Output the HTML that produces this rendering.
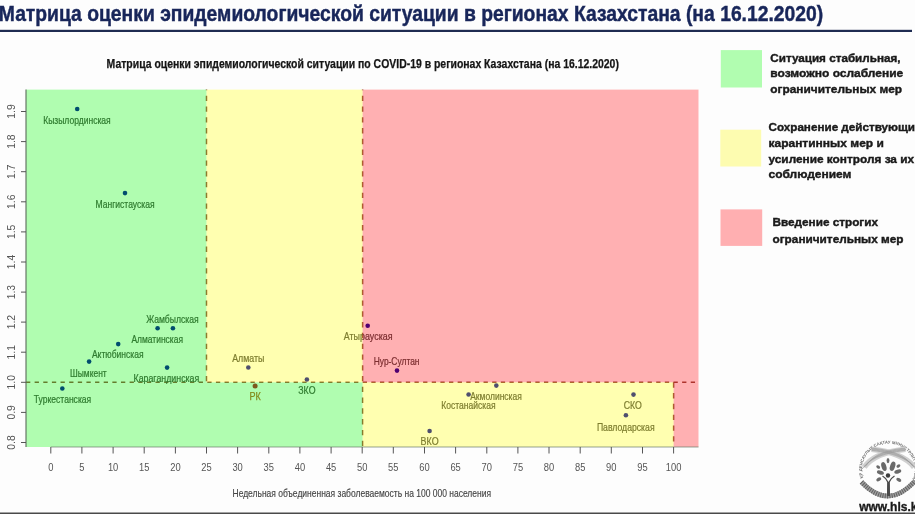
<!DOCTYPE html><html><head><meta charset="utf-8"><style>
html,body{margin:0;padding:0;background:#fff;width:915px;height:514px;overflow:hidden}
svg{display:block;position:absolute;left:0;top:0;filter:blur(0.7px)}
text{font-family:"Liberation Sans",Arial,sans-serif}
</style></head><body>
<svg width="915" height="514" viewBox="0 0 915 514">
<rect x="0" y="0" width="915" height="514" fill="#fdfdfd"/>
<text x="-1.2" y="20.7" font-size="22" font-weight="bold" fill="#18265a" stroke="#18265a" stroke-width="0.45" textLength="824.4" lengthAdjust="spacingAndGlyphs">Матрица оценки эпидемиологической ситуации в регионах Казахстана (на 16.12.2020)</text>
<rect x="0" y="29.8" width="912" height="2.2" fill="#1f2c52"/>
<text x="106.6" y="67.8" font-size="12" font-weight="bold" fill="#151515" stroke="#151515" stroke-width="0.25" textLength="512.3" lengthAdjust="spacingAndGlyphs">Матрица оценки эпидемиологической ситуации по COVID-19 в регионах Казахстана (на 16.12.2020)</text>
<rect x="26.0" y="89.6" width="672.5" height="357.4" fill="#ffffff"/>
<line x1="26.0" y1="382.3" x2="698.5" y2="382.3" stroke="#8e4a40" stroke-width="1.5" fill="none" stroke-dasharray="4.3 4.333" stroke-dashoffset="0"/>
<line x1="206.5" y1="89.6" x2="206.5" y2="382.3" stroke="#8e4a40" stroke-width="1.5" fill="none" stroke-dasharray="5.35 5.43" stroke-dashoffset="4.68"/>
<line x1="362.6" y1="89.6" x2="362.6" y2="447.0" stroke="#8e4a40" stroke-width="1.5" fill="none" stroke-dasharray="5.35 5.43" stroke-dashoffset="4.68"/>
<line x1="673.6" y1="382.3" x2="673.6" y2="447.0" stroke="#8e4a40" stroke-width="1.5" fill="none" stroke-dasharray="5.35 5.43" stroke-dashoffset="0"/>
<circle cx="77.2" cy="109.0" r="2.3" fill="#0000a0"/>
<text x="43.2" y="124.0" font-size="10.3" fill="#444444" stroke="#444444" stroke-width="0.22" textLength="67.5" lengthAdjust="spacingAndGlyphs">Кызылординская</text>
<circle cx="125.0" cy="193.1" r="2.3" fill="#0000a0"/>
<text x="95.5" y="208.4" font-size="10.3" fill="#444444" stroke="#444444" stroke-width="0.22" textLength="59.1" lengthAdjust="spacingAndGlyphs">Мангистауская</text>
<circle cx="157.6" cy="328.3" r="2.3" fill="#0000a0"/>
<circle cx="172.9" cy="328.3" r="2.3" fill="#0000a0"/>
<text x="146.2" y="322.5" font-size="10.3" fill="#444444" stroke="#444444" stroke-width="0.22" textLength="52.5" lengthAdjust="spacingAndGlyphs">Жамбылская</text>
<text x="131.4" y="343.2" font-size="10.3" fill="#444444" stroke="#444444" stroke-width="0.22" textLength="51.6" lengthAdjust="spacingAndGlyphs">Алматинская</text>
<circle cx="118.2" cy="344.1" r="2.3" fill="#0000a0"/>
<text x="91.9" y="358.4" font-size="10.3" fill="#444444" stroke="#444444" stroke-width="0.22" textLength="51.7" lengthAdjust="spacingAndGlyphs">Актюбинская</text>
<circle cx="89.1" cy="361.6" r="2.3" fill="#0000a0"/>
<text x="70.0" y="376.6" font-size="10.3" fill="#444444" stroke="#444444" stroke-width="0.22" textLength="36.7" lengthAdjust="spacingAndGlyphs">Шымкент</text>
<circle cx="62.3" cy="388.5" r="2.3" fill="#0000a0"/>
<text x="33.8" y="403.4" font-size="10.3" fill="#444444" stroke="#444444" stroke-width="0.22" textLength="57.4" lengthAdjust="spacingAndGlyphs">Туркестанская</text>
<circle cx="167.1" cy="367.6" r="2.3" fill="#0000a0"/>
<text x="133.5" y="382.0" font-size="10.3" fill="#444444" stroke="#444444" stroke-width="0.22" textLength="65.8" lengthAdjust="spacingAndGlyphs">Карагандинская</text>
<circle cx="248.3" cy="367.5" r="2.3" fill="#0000a0"/>
<text x="232.2" y="361.6" font-size="10.3" fill="#444444" stroke="#444444" stroke-width="0.22" textLength="32.2" lengthAdjust="spacingAndGlyphs">Алматы</text>
<circle cx="306.9" cy="379.5" r="2.3" fill="#0000a0"/>
<text x="298.3" y="393.7" font-size="10.3" fill="#444444" stroke="#444444" stroke-width="0.22" textLength="17.2" lengthAdjust="spacingAndGlyphs">ЗКО</text>
<circle cx="367.7" cy="325.7" r="2.3" fill="#0000a0"/>
<text x="343.8" y="339.7" font-size="10.3" fill="#444444" stroke="#444444" stroke-width="0.22" textLength="48.7" lengthAdjust="spacingAndGlyphs">Атырауская</text>
<circle cx="397.0" cy="370.6" r="2.3" fill="#0000a0"/>
<text x="373.7" y="365.0" font-size="10.3" fill="#444444" stroke="#444444" stroke-width="0.22" textLength="45.8" lengthAdjust="spacingAndGlyphs">Нур-Султан</text>
<circle cx="468.6" cy="394.5" r="2.3" fill="#0000a0"/>
<text x="441.2" y="409.0" font-size="10.3" fill="#444444" stroke="#444444" stroke-width="0.22" textLength="54.4" lengthAdjust="spacingAndGlyphs">Костанайская</text>
<circle cx="496.3" cy="385.6" r="2.3" fill="#0000a0"/>
<text x="470.2" y="400.2" font-size="10.3" fill="#444444" stroke="#444444" stroke-width="0.22" textLength="51.6" lengthAdjust="spacingAndGlyphs">Акмолинская</text>
<circle cx="429.6" cy="431.0" r="2.3" fill="#0000a0"/>
<text x="420.6" y="445.0" font-size="10.3" fill="#444444" stroke="#444444" stroke-width="0.22" textLength="18.0" lengthAdjust="spacingAndGlyphs">ВКО</text>
<circle cx="633.5" cy="394.6" r="2.3" fill="#0000a0"/>
<text x="623.7" y="408.6" font-size="10.3" fill="#444444" stroke="#444444" stroke-width="0.22" textLength="18.1" lengthAdjust="spacingAndGlyphs">СКО</text>
<circle cx="625.9" cy="415.3" r="2.3" fill="#0000a0"/>
<text x="596.9" y="430.8" font-size="10.3" fill="#444444" stroke="#444444" stroke-width="0.22" textLength="57.7" lengthAdjust="spacingAndGlyphs">Павлодарская</text>
<circle cx="255.1" cy="385.9" r="2.5" fill="#b4122a"/>
<text x="249.5" y="399.7" font-size="10.3" fill="#be5a28" stroke="#be5a28" stroke-width="0.25" textLength="11.3" lengthAdjust="spacingAndGlyphs">РК</text>
<rect x="26.0" y="89.6" width="180.5" height="292.7" fill="#00fa00" fill-opacity="0.31"/>
<rect x="26.0" y="382.3" width="336.6" height="64.7" fill="#00fa00" fill-opacity="0.31"/>
<rect x="206.5" y="89.6" width="156.1" height="292.7" fill="#ffff00" fill-opacity="0.31"/>
<rect x="362.6" y="382.3" width="311.0" height="64.7" fill="#ffff00" fill-opacity="0.31"/>
<rect x="362.6" y="89.6" width="335.9" height="292.7" fill="#ff0008" fill-opacity="0.31"/>
<rect x="673.6" y="382.3" width="24.9" height="64.7" fill="#ff0008" fill-opacity="0.31"/>
<line x1="26.0" y1="89.6" x2="26.0" y2="447.0" stroke="#5a6a5a" stroke-width="1.1"/>
<line x1="50.8" y1="447.0" x2="698.5" y2="447.0" stroke="#6a7a6a" stroke-opacity="0.7" stroke-width="1.1"/>
<line x1="21" y1="442.5" x2="26.0" y2="442.5" stroke="#555" stroke-width="1"/>
<text transform="translate(14.6,442.5) rotate(-90)" text-anchor="middle" font-size="10.4" fill="#555">0.8</text>
<line x1="21" y1="412.4" x2="26.0" y2="412.4" stroke="#555" stroke-width="1"/>
<text transform="translate(14.6,412.4) rotate(-90)" text-anchor="middle" font-size="10.4" fill="#555">0.9</text>
<line x1="21" y1="382.3" x2="26.0" y2="382.3" stroke="#555" stroke-width="1"/>
<text transform="translate(14.6,382.3) rotate(-90)" text-anchor="middle" font-size="10.4" fill="#555">1.0</text>
<line x1="21" y1="352.2" x2="26.0" y2="352.2" stroke="#555" stroke-width="1"/>
<text transform="translate(14.6,352.2) rotate(-90)" text-anchor="middle" font-size="10.4" fill="#555">1.1</text>
<line x1="21" y1="322.1" x2="26.0" y2="322.1" stroke="#555" stroke-width="1"/>
<text transform="translate(14.6,322.1) rotate(-90)" text-anchor="middle" font-size="10.4" fill="#555">1.2</text>
<line x1="21" y1="292.1" x2="26.0" y2="292.1" stroke="#555" stroke-width="1"/>
<text transform="translate(14.6,292.1) rotate(-90)" text-anchor="middle" font-size="10.4" fill="#555">1.3</text>
<line x1="21" y1="262.0" x2="26.0" y2="262.0" stroke="#555" stroke-width="1"/>
<text transform="translate(14.6,262.0) rotate(-90)" text-anchor="middle" font-size="10.4" fill="#555">1.4</text>
<line x1="21" y1="231.9" x2="26.0" y2="231.9" stroke="#555" stroke-width="1"/>
<text transform="translate(14.6,231.9) rotate(-90)" text-anchor="middle" font-size="10.4" fill="#555">1.5</text>
<line x1="21" y1="201.8" x2="26.0" y2="201.8" stroke="#555" stroke-width="1"/>
<text transform="translate(14.6,201.8) rotate(-90)" text-anchor="middle" font-size="10.4" fill="#555">1.6</text>
<line x1="21" y1="171.7" x2="26.0" y2="171.7" stroke="#555" stroke-width="1"/>
<text transform="translate(14.6,171.7) rotate(-90)" text-anchor="middle" font-size="10.4" fill="#555">1.7</text>
<line x1="21" y1="141.6" x2="26.0" y2="141.6" stroke="#555" stroke-width="1"/>
<text transform="translate(14.6,141.6) rotate(-90)" text-anchor="middle" font-size="10.4" fill="#555">1.8</text>
<line x1="21" y1="111.5" x2="26.0" y2="111.5" stroke="#555" stroke-width="1"/>
<text transform="translate(14.6,111.5) rotate(-90)" text-anchor="middle" font-size="10.4" fill="#555">1.9</text>
<line x1="50.8" y1="447.0" x2="50.8" y2="453.5" stroke="#555" stroke-width="1"/>
<g transform="translate(50.8,470.8) scale(0.85,1)"><text x="0" y="0" text-anchor="middle" font-size="11" fill="#555">0</text></g>
<line x1="81.9" y1="447.0" x2="81.9" y2="453.5" stroke="#555" stroke-width="1"/>
<g transform="translate(81.9,470.8) scale(0.85,1)"><text x="0" y="0" text-anchor="middle" font-size="11" fill="#555">5</text></g>
<line x1="113.1" y1="447.0" x2="113.1" y2="453.5" stroke="#555" stroke-width="1"/>
<g transform="translate(113.1,470.8) scale(0.85,1)"><text x="0" y="0" text-anchor="middle" font-size="11" fill="#555">10</text></g>
<line x1="144.2" y1="447.0" x2="144.2" y2="453.5" stroke="#555" stroke-width="1"/>
<g transform="translate(144.2,470.8) scale(0.85,1)"><text x="0" y="0" text-anchor="middle" font-size="11" fill="#555">15</text></g>
<line x1="175.4" y1="447.0" x2="175.4" y2="453.5" stroke="#555" stroke-width="1"/>
<g transform="translate(175.4,470.8) scale(0.85,1)"><text x="0" y="0" text-anchor="middle" font-size="11" fill="#555">20</text></g>
<line x1="206.5" y1="447.0" x2="206.5" y2="453.5" stroke="#555" stroke-width="1"/>
<g transform="translate(206.5,470.8) scale(0.85,1)"><text x="0" y="0" text-anchor="middle" font-size="11" fill="#555">25</text></g>
<line x1="237.6" y1="447.0" x2="237.6" y2="453.5" stroke="#555" stroke-width="1"/>
<g transform="translate(237.6,470.8) scale(0.85,1)"><text x="0" y="0" text-anchor="middle" font-size="11" fill="#555">30</text></g>
<line x1="268.8" y1="447.0" x2="268.8" y2="453.5" stroke="#555" stroke-width="1"/>
<g transform="translate(268.8,470.8) scale(0.85,1)"><text x="0" y="0" text-anchor="middle" font-size="11" fill="#555">35</text></g>
<line x1="299.9" y1="447.0" x2="299.9" y2="453.5" stroke="#555" stroke-width="1"/>
<g transform="translate(299.9,470.8) scale(0.85,1)"><text x="0" y="0" text-anchor="middle" font-size="11" fill="#555">40</text></g>
<line x1="331.1" y1="447.0" x2="331.1" y2="453.5" stroke="#555" stroke-width="1"/>
<g transform="translate(331.1,470.8) scale(0.85,1)"><text x="0" y="0" text-anchor="middle" font-size="11" fill="#555">45</text></g>
<line x1="362.2" y1="447.0" x2="362.2" y2="453.5" stroke="#555" stroke-width="1"/>
<g transform="translate(362.2,470.8) scale(0.85,1)"><text x="0" y="0" text-anchor="middle" font-size="11" fill="#555">50</text></g>
<line x1="393.3" y1="447.0" x2="393.3" y2="453.5" stroke="#555" stroke-width="1"/>
<g transform="translate(393.3,470.8) scale(0.85,1)"><text x="0" y="0" text-anchor="middle" font-size="11" fill="#555">55</text></g>
<line x1="424.5" y1="447.0" x2="424.5" y2="453.5" stroke="#555" stroke-width="1"/>
<g transform="translate(424.5,470.8) scale(0.85,1)"><text x="0" y="0" text-anchor="middle" font-size="11" fill="#555">60</text></g>
<line x1="455.6" y1="447.0" x2="455.6" y2="453.5" stroke="#555" stroke-width="1"/>
<g transform="translate(455.6,470.8) scale(0.85,1)"><text x="0" y="0" text-anchor="middle" font-size="11" fill="#555">65</text></g>
<line x1="486.8" y1="447.0" x2="486.8" y2="453.5" stroke="#555" stroke-width="1"/>
<g transform="translate(486.8,470.8) scale(0.85,1)"><text x="0" y="0" text-anchor="middle" font-size="11" fill="#555">70</text></g>
<line x1="517.9" y1="447.0" x2="517.9" y2="453.5" stroke="#555" stroke-width="1"/>
<g transform="translate(517.9,470.8) scale(0.85,1)"><text x="0" y="0" text-anchor="middle" font-size="11" fill="#555">75</text></g>
<line x1="549.0" y1="447.0" x2="549.0" y2="453.5" stroke="#555" stroke-width="1"/>
<g transform="translate(549.0,470.8) scale(0.85,1)"><text x="0" y="0" text-anchor="middle" font-size="11" fill="#555">80</text></g>
<line x1="580.2" y1="447.0" x2="580.2" y2="453.5" stroke="#555" stroke-width="1"/>
<g transform="translate(580.2,470.8) scale(0.85,1)"><text x="0" y="0" text-anchor="middle" font-size="11" fill="#555">85</text></g>
<line x1="611.3" y1="447.0" x2="611.3" y2="453.5" stroke="#555" stroke-width="1"/>
<g transform="translate(611.3,470.8) scale(0.85,1)"><text x="0" y="0" text-anchor="middle" font-size="11" fill="#555">90</text></g>
<line x1="642.5" y1="447.0" x2="642.5" y2="453.5" stroke="#555" stroke-width="1"/>
<g transform="translate(642.5,470.8) scale(0.85,1)"><text x="0" y="0" text-anchor="middle" font-size="11" fill="#555">95</text></g>
<line x1="673.6" y1="447.0" x2="673.6" y2="453.5" stroke="#555" stroke-width="1"/>
<g transform="translate(673.6,470.8) scale(0.85,1)"><text x="0" y="0" text-anchor="middle" font-size="11" fill="#555">100</text></g>
<text x="232.5" y="496.6" font-size="11" fill="#444" stroke="#444" stroke-width="0.15" textLength="258.5" lengthAdjust="spacingAndGlyphs">Недельная объединенная заболеваемость на 100 000 населения</text>
<rect x="720.8" y="50.1" width="41.2" height="37.4" fill="#b1fdb0" fill-opacity="1"/>
<rect x="720.3" y="129.7" width="40.9" height="36.8" fill="#fdfcb0" fill-opacity="1"/>
<rect x="720.5" y="209.4" width="41.7" height="36.5" fill="#ffafb1" fill-opacity="1"/>
<text x="770.3" y="61.6" font-size="11" font-weight="bold" fill="#1a1a1a" stroke="#1a1a1a" stroke-width="0.4" lengthAdjust="spacingAndGlyphs" textLength="130.2">Ситуация стабильная,</text>
<text x="770.3" y="77.2" font-size="11" font-weight="bold" fill="#1a1a1a" stroke="#1a1a1a" stroke-width="0.4" lengthAdjust="spacingAndGlyphs" textLength="133">возможно ослабление</text>
<text x="770.3" y="92.8" font-size="11" font-weight="bold" fill="#1a1a1a" stroke="#1a1a1a" stroke-width="0.4" lengthAdjust="spacingAndGlyphs" textLength="131.8">ограничительных мер</text>
<text x="768.5" y="130.6" font-size="11" font-weight="bold" fill="#1a1a1a" stroke="#1a1a1a" stroke-width="0.4" lengthAdjust="spacingAndGlyphs" textLength="153">Сохранение действующих</text>
<text x="768.5" y="147" font-size="11" font-weight="bold" fill="#1a1a1a" stroke="#1a1a1a" stroke-width="0.4" lengthAdjust="spacingAndGlyphs" textLength="115.3">карантинных мер и</text>
<text x="768.5" y="163.3" font-size="11" font-weight="bold" fill="#1a1a1a" stroke="#1a1a1a" stroke-width="0.4" lengthAdjust="spacingAndGlyphs" textLength="145.6">усиление контроля за их</text>
<text x="768.5" y="178.3" font-size="11" font-weight="bold" fill="#1a1a1a" stroke="#1a1a1a" stroke-width="0.4" lengthAdjust="spacingAndGlyphs" textLength="82.9">соблюдением</text>
<text x="772.5" y="225.8" font-size="11" font-weight="bold" fill="#1a1a1a" stroke="#1a1a1a" stroke-width="0.4" lengthAdjust="spacingAndGlyphs" textLength="105.5">Введение строгих</text>
<text x="772.5" y="242.6" font-size="11" font-weight="bold" fill="#1a1a1a" stroke="#1a1a1a" stroke-width="0.4" lengthAdjust="spacingAndGlyphs" textLength="131">ограничительных мер</text>
<g>
<path id="ring" d="M 863.59 478.80 A 26.3 26.3 0 1 1 913.01 478.80" fill="none"/>
<text font-size="4.2" font-weight="bold" fill="#707070" letter-spacing="0.05"><textPath href="#ring" startOffset="1">ҚР ДЕНСАУЛЫҚ САҚТАУ МИНИСТРЛІГІ ҰЛТТЫҚ ОРТАЛЫҒЫ</textPath></text>
<path d="M 864.3 467.2 C 870 459, 880 452, 905.5 449.2" fill="none" stroke="#d0d0d0" stroke-width="5.6"/>
<path d="M 914.2 467.2 C 908 459, 897 452, 871.5 449.2" fill="none" stroke="#d0d0d0" stroke-width="5.6"/>
<path d="M 862.4 468.8 C 868.1 460.6, 879.43 453.6, 905.5 450.32" fill="none" stroke="#999" stroke-width="0.6"/>
<path d="M 916.1 468.8 C 909.9 460.6, 897.57 453.6, 871.5 450.32" fill="none" stroke="#999" stroke-width="0.6"/>
<path d="M 863.65 467.75 C 869.35 459.55, 879.805 452.55, 905.5 449.585" fill="none" stroke="#999" stroke-width="0.6"/>
<path d="M 914.85 467.75 C 908.65 459.55, 897.195 452.55, 871.5 449.585" fill="none" stroke="#999" stroke-width="0.6"/>
<path d="M 864.9499999999999 466.65 C 870.65 458.45, 880.195 451.45, 905.5 448.815" fill="none" stroke="#999" stroke-width="0.6"/>
<path d="M 913.5500000000001 466.65 C 907.35 458.45, 896.805 451.45, 871.5 448.815" fill="none" stroke="#999" stroke-width="0.6"/>
<path d="M 866.1999999999999 465.59999999999997 C 871.9 457.4, 880.57 450.4, 905.5 448.08" fill="none" stroke="#999" stroke-width="0.6"/>
<path d="M 912.3000000000001 465.59999999999997 C 906.1 457.4, 896.43 450.4, 871.5 448.08" fill="none" stroke="#999" stroke-width="0.6"/>
<path d="M 861.5 482 Q 888 510.5 915 481" fill="none" stroke="#a0a0a0" stroke-width="4.8"/>
<path d="M 861.5 482 Q 888 510.5 915 481" fill="none" stroke="#606060" stroke-width="4.8" stroke-dasharray="1.0 1.3"/>
<path d="M 887.6 496 L 887.8 482 Q 886 478 882.5 476 M 889.4 496 L 889.2 482 Q 891 478 894.5 476" fill="none" stroke="#4a4a4a" stroke-width="1.3"/>
<path d="M 887.4 496 L 889.6 496 L 889.2 482 L 887.8 482 Z" fill="#4a4a4a"/>
<circle cx="888" cy="475.5" r="2.2" fill="#3c3c3c"/>
<ellipse cx="888" cy="460.6" rx="1.4" ry="2.6" transform="rotate(0 888 460.6)" fill="#6a6a6a"/>
<ellipse cx="883.9" cy="466.6" rx="2.4" ry="4.6" transform="rotate(-18 883.9 466.6)" fill="#6a6a6a"/>
<ellipse cx="892.6" cy="466.2" rx="2.5" ry="4.8" transform="rotate(18 892.6 466.2)" fill="#6a6a6a"/>
<ellipse cx="880.4" cy="472.6" rx="3.6" ry="1.9" transform="rotate(18 880.4 472.6)" fill="#6a6a6a"/>
<ellipse cx="897.8" cy="471.6" rx="3.6" ry="1.9" transform="rotate(-18 897.8 471.6)" fill="#6a6a6a"/>
<ellipse cx="878.2" cy="467.0" rx="2.1" ry="1.5" transform="rotate(35 878.2 467.0)" fill="#6a6a6a"/>
<ellipse cx="898.4" cy="466.0" rx="2.1" ry="1.5" transform="rotate(-35 898.4 466.0)" fill="#6a6a6a"/>
<ellipse cx="878.8" cy="479.3" rx="2.7" ry="1.7" transform="rotate(-30 878.8 479.3)" fill="#6a6a6a"/>
<ellipse cx="898.8" cy="479.8" rx="2.7" ry="1.7" transform="rotate(30 898.8 479.8)" fill="#6a6a6a"/>
</g>
<text x="859.2" y="510.9" font-size="12" font-weight="bold" fill="#1a1a1a" stroke="#1a1a1a" stroke-width="0.35">www.hls.kz</text>
<rect x="0" y="512.5" width="915" height="1.5" fill="#4a4a4a"/>
</svg></body></html>
